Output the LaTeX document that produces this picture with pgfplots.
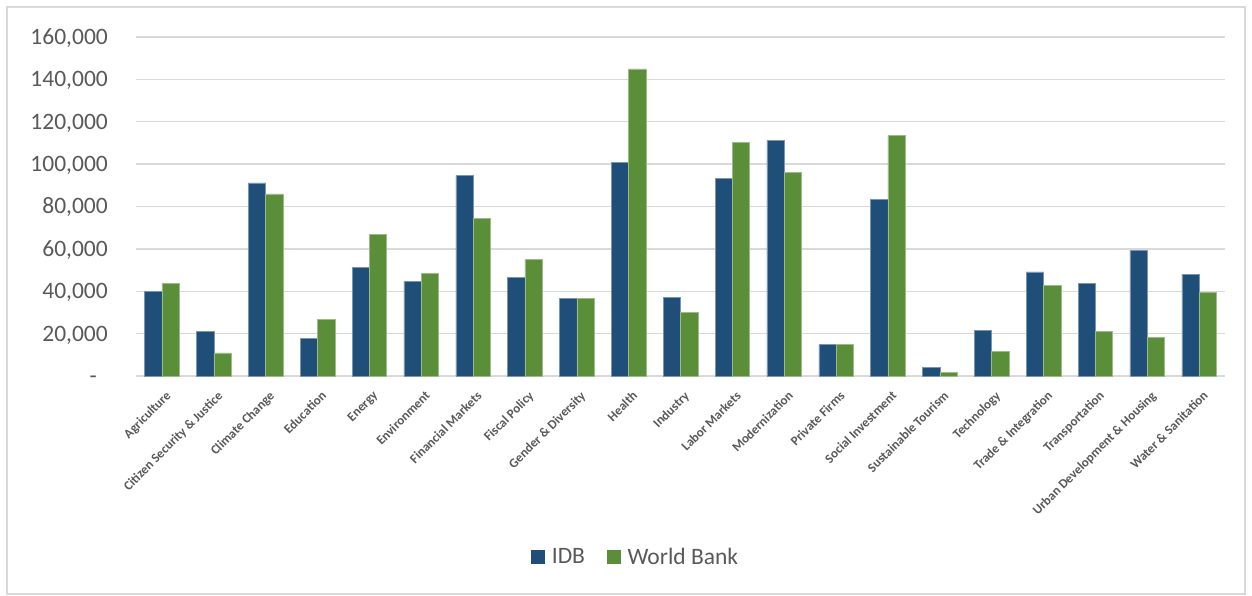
\documentclass[border=0pt]{standalone}
\usepackage{pgfplots}
\pgfplotsset{compat=1.18}
\usepackage{fontspec}
\setmainfont{Carlito}
\definecolor{idb}{HTML}{1F4E79}
\definecolor{wb}{HTML}{5B8E39}
\definecolor{gridc}{HTML}{D9D9D9}
\definecolor{txt}{HTML}{595959}
\pgfplotsset{sqleg/.style={legend image code/.code={\draw[##1,draw=none] (0pt,-7pt) rectangle (14pt,7pt);}}}
\begin{document}
\begin{tikzpicture}
\useasboundingbox (-136pt,-220pt) rectangle (1116pt,376pt);
\fill[white] (-136pt,-220pt) rectangle (1116pt,376pt);
\draw[gridc, line width=1.3pt] (-129pt,-218pt) rectangle (1109pt,369pt);
\begin{axis}[
  at={(0pt,0pt)}, anchor=south west,
  scale only axis, width=1089pt, height=339pt,
  ybar=0pt, bar width=17.3pt,
  xmin=-0.5, xmax=20.5, ymin=0, ymax=160000,
  xtick={0,...,20},
  xticklabels={Agriculture,Citizen Security \& Justice,Climate Change,Education,Energy,Environment,Financial Markets,Fiscal Policy,Gender \& Diversity,Health,Industry,Labor Markets,Modernization,Private Firms,Social Investment,Sustainable Tourism,Technology,Trade \& Integration,Transportation,Urban Development \& Housing,Water \& Sanitation},
  ytick={0,20000,40000,60000,80000,100000,120000,140000,160000},
  yticklabels={{-\kern11pt},{20,000},{40,000},{60,000},{80,000},{100,000},{120,000},{140,000},{160,000}},
  scaled y ticks=false,
  axis line style={draw=none},
  tick style={draw=none},
  major tick length=0pt,
  ymajorgrids, grid style={gridc, line width=1.3pt},
  x tick label style={font=\bfseries\fontsize{13}{15}\selectfont, text=txt, xshift=3pt, yshift=-14pt, rotate=45, anchor=north east, inner sep=0pt},
  y tick label style={font=\fontsize{23.5}{28}\selectfont, text=txt, anchor=base east, inner sep=0pt, xshift=-28pt, yshift=-7.4pt},
  legend columns=-1,
  legend style={draw=none, fill=none, font=\fontsize{23.5}{28}\selectfont, text=txt,
    at={(0.458,-0.534)}, anchor=center,
    nodes={inner sep=0pt},
    /tikz/every odd column/.append style={column sep=6.5pt},
    /tikz/every even column/.append style={column sep=22pt}},
]
\addplot[fill=idb, draw=idb!60!white, line width=0.5pt, sqleg] coordinates {
(0,39800) (1,21100) (2,91200) (3,17800) (4,51100) (5,44700) (6,94700) (7,46400) (8,36500) (9,100700) (10,37100) (11,93400) (12,111100) (13,14800) (14,83400) (15,4100) (16,21700) (17,49100) (18,43700) (19,59300) (20,48100)};
\addplot[fill=wb, draw=wb!60!white, line width=0.5pt, sqleg] coordinates {
(0,43700) (1,10900) (2,86000) (3,26700) (4,67000) (5,48400) (6,74300) (7,54900) (8,36500) (9,145000) (10,30200) (11,110100) (12,96000) (13,14800) (14,113600) (15,1600) (16,11600) (17,42800) (18,21100) (19,18200) (20,39300)};
\legend{IDB, World Bank}
\end{axis}
\end{tikzpicture}
\end{document}
